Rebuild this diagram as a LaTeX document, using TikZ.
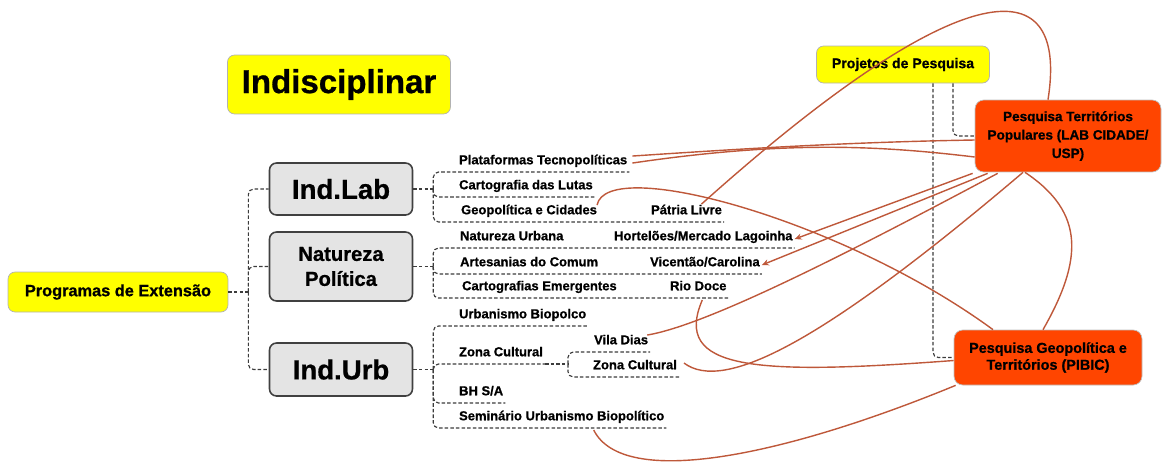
\documentclass[tikz,border=0pt]{standalone}
\usepackage{fontspec}
\setmainfont{Liberation Sans}[BoldFeatures={FakeBold=0.8}]
\usetikzlibrary{positioning,arrows.meta}

\definecolor{mapyellow}{RGB}{255,255,0}
\definecolor{maporange}{RGB}{255,69,0}
\definecolor{linkbrown}{RGB}{190,88,58}
\definecolor{boxgray}{RGB}{228,228,228}
\definecolor{treegray}{RGB}{60,60,60}

\tikzset{
  topic/.style={draw=black!30, fill=mapyellow, rounded corners=4pt, align=center, font=\bfseries},
  branch/.style={draw=black!75, line width=0.9pt, fill=boxgray, rounded corners=4pt, align=center, minimum width=2.86cm},
  research/.style={draw=black!25, fill=maporange, rounded corners=5pt, align=center},
  leaf/.style={anchor=south west, inner xsep=1pt, inner ysep=0pt, text height=5.6pt, text depth=4.2pt, font=\fontsize{7.4}{9}\selectfont\bfseries},
  tree/.style={draw=treegray, line width=0.65pt, dash pattern=on 2pt off 1.2pt, rounded corners=3pt},
  link/.style={draw=linkbrown, line width=0.8pt},
}

\begin{document}
\begin{tikzpicture}[x=0.02cm, y=-0.02cm]
        \useasboundingbox (0,0) rectangle (1162,467);
        % Define topics
        \node[topic, minimum width=4.46cm, minimum height=1.18cm, font=\fontsize{18.8}{22}\selectfont\bfseries] (Indis) at (339,84.5) {Indisciplinar};
        \node[topic, minimum width=4.4cm, minimum height=0.8cm, font=\fontsize{9.3}{11}\selectfont\bfseries] (Prog) at (118,292) {Programas de Extensão};
        \node[topic, minimum width=3.46cm, minimum height=0.74cm, font=\fontsize{8}{10}\selectfont\bfseries] (Proj) at (903,64.5) {Projetos de Pesquisa};

        % Define branches
        \node[branch, minimum height=1.04cm, font=\fontsize{15.7}{18}\selectfont\bfseries] (IndLab) at (341,189) {Ind.Lab};
        \node[branch, minimum height=1.38cm, font=\fontsize{11.5}{14.2}\selectfont\bfseries] (NatPol) at (341,266.5) {Natureza\\Política};
        \node[branch, minimum height=1.06cm, font=\fontsize{15.7}{18}\selectfont\bfseries] (IndUrb) at (341,369.5) {Ind.Urb};

        % Define research projects
        \node[research, minimum width=3.72cm, minimum height=1.44cm, font=\fontsize{7.7}{10.5}\selectfont\bfseries] (TerrPop) at (1068,136) {Pesquisa Territórios\\Populares (LAB CIDADE/\\USP)};
        \node[research, minimum width=3.76cm, minimum height=1.1cm, font=\fontsize{8.2}{9.6}\selectfont\bfseries] (GeoTerr) at (1048,357.5) {Pesquisa Geopolítica e\\Territórios (PIBIC)};

        % Define leaves
        \node[leaf] (Plat)     at (457,172) {Plataformas Tecnopolíticas};
        \node[leaf] (Lutas)    at (457,197) {Cartografia das Lutas};
        \node[leaf] (GeoCid)   at (459,222) {Geopolítica e Cidades};
        \node[leaf] (Patria)   at (649,222) {Pátria Livre};
        \node[leaf] (NatUrb)   at (458,248) {Natureza Urbana};
        \node[leaf] (Hort)     at (612,248) {Hortelões/Mercado Lagoinha};
        \node[leaf] (Artes)    at (458,274) {Artesanias do Comum};
        \node[leaf] (Vicentao) at (648,274) {Vicentão/Carolina};
        \node[leaf] (CartEm)   at (460,298) {Cartografias Emergentes};
        \node[leaf] (RioDoce)  at (668,298) {Rio Doce};
        \node[leaf] (UrbBio)   at (457,326) {Urbanismo Biopolco};
        \node[leaf] (ZonaCult) at (457,364) {Zona Cultural};
        \node[leaf] (VilaDias) at (592,352) {Vila Dias};
        \node[leaf] (ZonaSub)  at (591,377) {Zona Cultural};
        \node[leaf] (BHSA)     at (457,403) {BH S/A};
        \node[leaf] (Semin)    at (457,428) {Seminário Urbanismo Biopolítico};

        % Define tree lines
        \draw[tree] (Prog.east) -- ++(20,0) coordinate (ProgFork);
        \foreach \b in {IndLab,NatPol,IndUrb}
          \draw[tree] (ProgFork) |- (\b.west);
        \draw[tree] (IndLab.east) -- ++(20,0) coordinate (LabFork);
        \foreach \l in {Plat,Lutas,Patria}
          \draw[tree] (LabFork) |- (\l.south east);
        \draw[tree] (NatPol.east) -- ++(20,0) coordinate (NatFork);
        \foreach \l in {Hort,Vicentao,RioDoce}
          \draw[tree] (NatFork) |- (\l.south east);
        \draw[tree] (IndUrb.east) -- ++(20,0) coordinate (UrbFork);
        \foreach \l in {UrbBio,ZonaCult,BHSA,Semin}
          \draw[tree] (UrbFork) |- (\l.south east);
        \draw[tree] (ZonaCult.south east) -- ++(23,0) coordinate (ZonaFork);
        \foreach \l in {VilaDias,ZonaSub}
          \draw[tree] (ZonaFork) |- (\l.south east);
        \draw[tree] ([shift={(30,0)}]Proj.south) |- (GeoTerr.west);
        \draw[tree] ([shift={(50,0)}]Proj.south) |- (TerrPop.west);

        % Define links
        \draw[link] ([shift={(3,-7)}]Plat.east) .. controls +(120,-8) and +(-120,2) .. ([shift={(0,4)}]TerrPop.west);
        \draw[link] ([shift={(3,0)}]Plat.east) .. controls +(150,-22) and +(-100,-12) .. ([shift={(0,21)}]TerrPop.west);
        \draw[link] ([shift={(15,0)}]Patria.north) .. controls +(250,-224) and +(22,-140) .. ([shift={(-20,0)}]TerrPop.north);
        \draw[link, -{Stealth[length=4pt,width=3.5pt]}] ([shift={(-2,1)}]TerrPop.south west) -- (Hort.east);
        \draw[link, -{Stealth[length=4pt,width=3.5pt]}] ([shift={(13,1)}]TerrPop.south west) -- (Vicentao.east);
        \draw[link] ([shift={(23,1)}]TerrPop.south west) .. controls +(-150,80) and +(60,-10) .. ([shift={(-3,-8)}]VilaDias.east);
        \draw[link] ([shift={(-45,0)}]TerrPop.south) .. controls +(-200,170) and +(40,30) .. ([shift={(5,-5)}]ZonaSub.east);
        \draw[link] ([shift={(-43,0)}]TerrPop.south) .. controls +(60,40) and +(40,-70) .. ([shift={(-5,0)}]GeoTerr.north);
        \draw[link] ([shift={(4,2)}]RioDoce.south) .. controls +(-30,70) and +(-200,15) .. ([shift={(0,3)}]GeoTerr.west);
        \draw[link] ([shift={(32,2)}]Semin.south) .. controls +(30,60) and +(-170,70) .. ([shift={(2,0)}]GeoTerr.south west);
        \draw[link] ([shift={(-2,-8)}]GeoCid.east) .. controls +(10,-50) and +(-150,-110) .. ([shift={(-55,0)}]GeoTerr.north);
\end{tikzpicture}
\end{document}
